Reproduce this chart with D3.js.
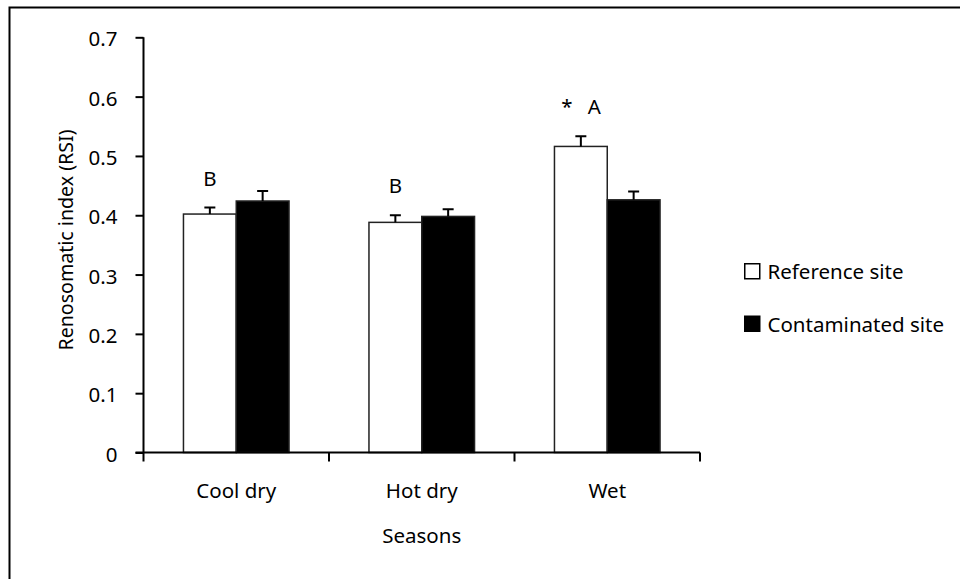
<!DOCTYPE html>
<html>
<head>
<meta charset="utf-8">
<script src="https://cdn.jsdelivr.net/npm/d3@7"></script>
<style>
  html, body { margin: 0; padding: 0; background: #fff; }
  svg { display: block; font-family: "Noto Sans", "Open Sans", sans-serif; }
</style>
</head>
<body>
<div id="chart"></div>
<script>
// --- data ---
const seasons = ["Cool dry", "Hot dry", "Wet"];
const sites = ["Reference site", "Contaminated site"];
const referenceRSI = [0.402, 0.388, 0.516];
const contaminatedRSI = [0.424, 0.398, 0.426];
const referenceSE = [0.011, 0.012, 0.017];
const contaminatedSE = [0.017, 0.012, 0.014];
const groupLetters = ["B", "B", "A"];
const starMarks = ["", "", "*"];
const yTicks = [0, 0.1, 0.2, 0.3, 0.4, 0.5, 0.6, 0.7];

const width = 960, height = 579;
const margin = { left: 143.5, right: 260, top: 37.3, bottom: 126.5 };
const fontSize = 20.5;

const svg = d3.select("#chart").append("svg")
  .attr("width", width)
  .attr("height", height);

// outer frame (only top and left edges visible)
svg.append("rect")
  .attr("x", 9.5).attr("y", 7.5)
  .attr("width", 1000).attr("height", 700)
  .attr("fill", "none")
  .attr("stroke", "#000")
  .attr("stroke-width", 2);

const x0 = d3.scaleBand()
  .domain(seasons)
  .range([margin.left, width - margin.right])
  .paddingInner(0)
  .paddingOuter(0);

const x1 = d3.scaleBand()
  .domain(sites)
  .range([0, x0.bandwidth()])
  .paddingOuter(0.757)
  .paddingInner(0);

const y = d3.scaleLinear()
  .domain([0, 0.7])
  .range([height - margin.bottom, margin.top]);

const rows = seasons.map((s, i) => ({
  season: s,
  bars: [
    { site: sites[0], value: referenceRSI[i], se: referenceSE[i], fill: "#fff" },
    { site: sites[1], value: contaminatedRSI[i], se: contaminatedSE[i], fill: "#000" }
  ]
}));

// --- bars ---
const groups = svg.append("g").selectAll("g")
  .data(rows)
  .join("g")
  .attr("transform", d => `translate(${x0(d.season)},0)`);

groups.selectAll("rect")
  .data(d => d.bars)
  .join("rect")
  .attr("x", d => x1(d.site))
  .attr("y", d => y(d.value))
  .attr("width", x1.bandwidth())
  .attr("height", d => y(0) - y(d.value))
  .attr("fill", d => d.fill)
  .attr("stroke", "#222")
  .attr("stroke-width", 1.5);

// error bars (upper only)
const capHalf = 5.5;
groups.selectAll("path.err")
  .data(d => d.bars)
  .join("path")
  .attr("class", "err")
  .attr("d", d => {
    const cx = x1(d.site) + x1.bandwidth() / 2;
    const top = y(d.value + d.se);
    return `M${cx},${y(d.value)}V${top}M${cx - capHalf},${top}H${cx + capHalf}`;
  })
  .attr("fill", "none")
  .attr("stroke", "#000")
  .attr("stroke-width", 2);

// significance letters
groups.each(function(d, i) {
  const g = d3.select(this);
  const ref = d.bars[0];
  const cx = x1(ref.site) + x1.bandwidth() / 2;
  const base = y(ref.value + ref.se) - 22;
  if (starMarks[i]) {
    g.append("text")
      .attr("x", cx + 13.5).attr("y", base)
      .attr("text-anchor", "middle")
      .attr("font-size", fontSize)
      .text(groupLetters[i]);
    g.append("text")
      .attr("x", cx - 14).attr("y", base)
      .attr("text-anchor", "middle")
      .attr("font-size", fontSize)
      .text(starMarks[i]);
  } else {
    g.append("text")
      .attr("x", cx).attr("y", base)
      .attr("text-anchor", "middle")
      .attr("font-size", fontSize)
      .text(groupLetters[i]);
  }
});

// --- axes ---
const yAxis = svg.append("g")
  .attr("transform", `translate(${margin.left},0)`)
  .call(d3.axisLeft(y).tickValues(yTicks).tickSize(8).tickPadding(18)
    .tickFormat(d => d === 0 ? "0" : d3.format(".1f")(d)));
yAxis.select(".domain").attr("d", `M0,${y(0.7)}V${y(0)}`).attr("stroke-width", 2);
yAxis.selectAll(".tick line").attr("stroke-width", 2);
yAxis.selectAll("text")
  .attr("font-size", fontSize)
  .attr("font-family", "Noto Sans, sans-serif")
  .attr("fill", "#000")
  .attr("dy", "0.42em");

const xAxis = svg.append("g")
  .attr("transform", `translate(0,${y(0)})`);
xAxis.append("path")
  .attr("d", `M${margin.left - 8},0H${width - margin.right}`)
  .attr("stroke", "#000")
  .attr("stroke-width", 2);
xAxis.selectAll("line.tk")
  .data(seasons.map(s => x0(s)).concat([x0.range()[1]]))
  .join("line")
  .attr("class", "tk")
  .attr("x1", d => d).attr("x2", d => d)
  .attr("y1", 0).attr("y2", 9)
  .attr("stroke", "#000")
  .attr("stroke-width", 2);
xAxis.selectAll("text.lbl")
  .data(seasons)
  .join("text")
  .attr("class", "lbl")
  .attr("x", d => x0(d) + x0.bandwidth() / 2)
  .attr("y", 45.3)
  .attr("text-anchor", "middle")
  .attr("font-size", fontSize)
  .text(d => d);

// axis titles
svg.append("text")
  .attr("x", (margin.left + width - margin.right) / 2)
  .attr("y", 543)
  .attr("text-anchor", "middle")
  .attr("font-size", fontSize)
  .text("Seasons");

svg.append("text")
  .attr("transform", "translate(72.5,240) rotate(-90)")
  .attr("text-anchor", "middle")
  .attr("font-size", 19.6)
  .text("Renosomatic index (RSI)");

// --- legend ---
const legend = svg.append("g").attr("transform", "translate(744,263)");
const legendItems = legend.selectAll("g")
  .data(sites)
  .join("g")
  .attr("transform", (d, i) => `translate(0,${i * 52.5})`);
legendItems.append("rect")
  .attr("x", 0.75).attr("y", 0.75)
  .attr("width", 15).attr("height", 15)
  .attr("fill", (d, i) => i === 0 ? "#fff" : "#000")
  .attr("stroke", "#000")
  .attr("stroke-width", 1.5);
legendItems.append("text")
  .attr("x", 23.5).attr("y", 16)
  .attr("font-size", fontSize)
  .text(d => d);
</script>
</body>
</html>
